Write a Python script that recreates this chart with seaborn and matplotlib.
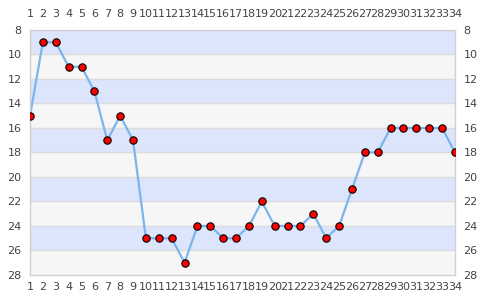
import matplotlib
matplotlib.use("Agg")
import matplotlib.pyplot as plt
import seaborn as sns
import pandas as pd

x_vals = list(range(1, 35))
y_vals = [15, 9, 9, 11, 11, 13, 17, 15, 17, 25, 25, 25, 27, 24, 24, 25, 25, 24, 22, 24,
          24, 24, 23, 25, 24, 21, 18, 18, 16, 16, 16, 16, 16, 18]
y_ticks = list(range(8, 29, 2))

df = pd.DataFrame({"x": x_vals, "y": y_vals})

sns.set_theme(style="white")
plt.rcParams['font.family'] = ['DejaVu Sans']

fig = plt.figure(figsize=(4.85, 3.0), dpi=100)
ax = fig.add_axes([30/485, 25/300, 425/485, 245/300])

# bands
for i, lo in enumerate(range(8, 28, 2)):
    ax.axhspan(lo, lo + 2, color="#dde5fd" if i % 2 == 0 else "#f6f6f6", zorder=0, lw=0)
for yt in y_ticks[1:-1]:
    ax.axhline(yt, color="#dcdcdc", lw=1, zorder=0.5)

sns.lineplot(data=df, x="x", y="y", ax=ax, color="#7cb5ec", lw=1.6, zorder=2)
sns.scatterplot(data=df, x="x", y="y", ax=ax, color="red", edgecolor="black",
                s=28, linewidth=0.8, zorder=3)

ax.set_xlim(1, 34)
ax.set_ylim(28, 8)
ax.set_xticks(x_vals)
ax.set_yticks(y_ticks)
ax.set_xlabel("")
ax.set_ylabel("")
ax.tick_params(axis="both", length=0, labelsize=8, colors="#444444")
ax.tick_params(axis="x", top=True, labeltop=True, bottom=True, labelbottom=True, pad=5)
ax.xaxis.set_tick_params(which="major", pad=5)
for t in ax.xaxis.get_major_ticks():
    t.label2.set_y(1.0)
ax.tick_params(axis="x", which="major", labeltop=True)
ax.tick_params(axis="y", left=True, labelleft=True, right=True, labelright=True, pad=6)
for s in ["left", "right", "bottom", "top"]:
    ax.spines[s].set_color("#d0d0d0")
    ax.spines[s].set_linewidth(1)

# push top labels a bit farther from the axes
import matplotlib.transforms as mtransforms
offset = mtransforms.ScaledTranslation(0, 3/72, fig.dpi_scale_trans)
for lbl in ax.get_xticklabels(which="major", minor=False):
    pass
for t in ax.xaxis.get_major_ticks():
    t.label2.set_transform(t.label2.get_transform() + offset)

fig.savefig("out.png", dpi=100)
